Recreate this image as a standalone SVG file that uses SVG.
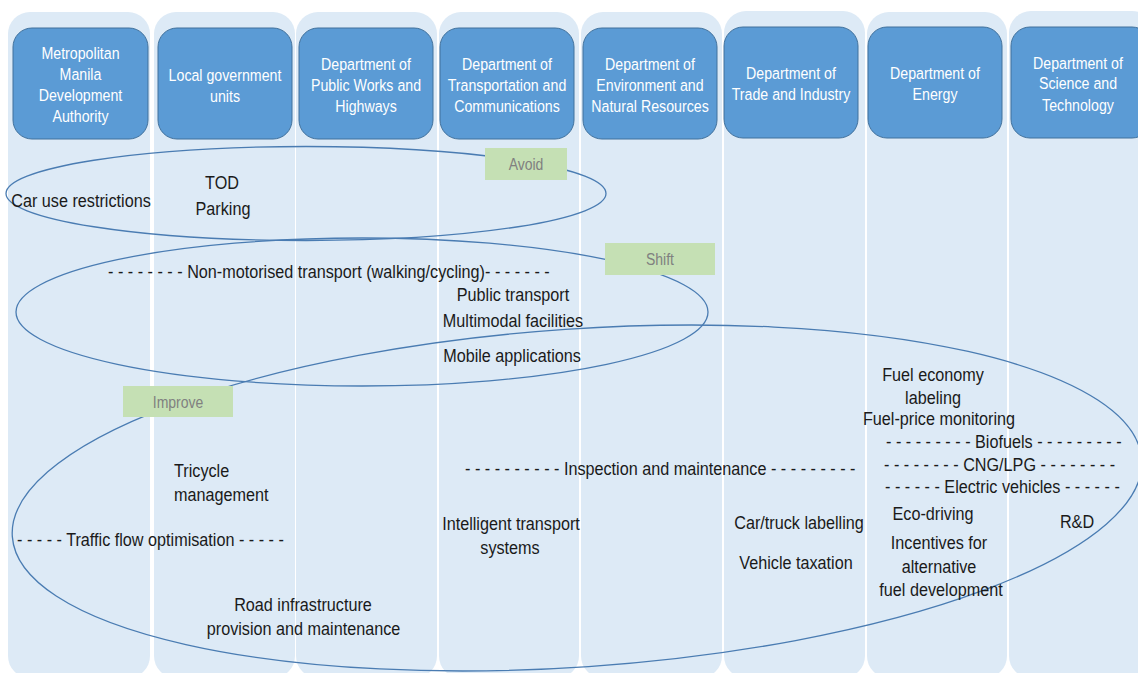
<svg xmlns="http://www.w3.org/2000/svg" width="1138" height="673" viewBox="0 0 1138 673">
<style>
.col{fill:#DDEAF6;}
.hdr{fill:#5B9BD5;stroke:#41719C;stroke-width:1;}
.ht{font-family:"Liberation Sans",Arial,sans-serif;font-size:14.2px;fill:#FFFFFF;text-anchor:middle;}
.b{font-family:"Liberation Sans",Arial,sans-serif;font-size:16.2px;fill:#1A1A1A;}
.m{text-anchor:middle;}
.ell{fill:none;stroke:#4A7CB2;stroke-width:1.3;}
.lbl{fill:#C5E0B4;}
.lt{font-family:"Liberation Sans",Arial,sans-serif;font-size:14px;fill:#808080;text-anchor:middle;}
</style>
<rect width="1138" height="673" fill="#FFFFFF"/>
<g id="columns">
<g id="col-mmda"><rect class="col" x="8" y="12" width="142" height="666" rx="22"/><rect class="hdr" x="13" y="28" width="135" height="111" rx="19"/>
<text class="ht" transform="translate(80.5,59) scale(1,1.2)">Metropolitan</text>
<text class="ht" transform="translate(80.5,80) scale(1,1.2)">Manila</text>
<text class="ht" transform="translate(80.5,101) scale(1,1.2)">Development</text>
<text class="ht" transform="translate(80.5,122) scale(1,1.2)">Authority</text></g>
<g id="col-lgu"><rect class="col" x="154" y="12" width="141" height="666" rx="22"/><rect class="hdr" x="158" y="28" width="134" height="111" rx="19"/>
<text class="ht" transform="translate(225,81) scale(1,1.2)">Local government</text>
<text class="ht" transform="translate(225,102) scale(1,1.2)">units</text></g>
<g id="col-dpwh"><rect class="col" x="296" y="12" width="141" height="666" rx="22"/><rect class="hdr" x="299" y="28" width="134" height="111" rx="19"/>
<text class="ht" transform="translate(366,70) scale(1,1.2)">Department of</text>
<text class="ht" transform="translate(366,91) scale(1,1.2)">Public Works and</text>
<text class="ht" transform="translate(366,112) scale(1,1.2)">Highways</text></g>
<g id="col-dotc"><rect class="col" x="439" y="12" width="140" height="666" rx="22"/><rect class="hdr" x="440" y="28" width="134" height="111" rx="19"/>
<text class="ht" transform="translate(507,70) scale(1,1.2)">Department of</text>
<text class="ht" transform="translate(507,91) scale(1,1.2)">Transportation and</text>
<text class="ht" transform="translate(507,112) scale(1,1.2)">Communications</text></g>
<g id="col-denr"><rect class="col" x="581" y="12" width="141" height="666" rx="22"/><rect class="hdr" x="583" y="28" width="134" height="111" rx="19"/>
<text class="ht" transform="translate(650,70) scale(1,1.2)">Department of</text>
<text class="ht" transform="translate(650,91) scale(1,1.2)">Environment and</text>
<text class="ht" transform="translate(650,112) scale(1,1.2)">Natural Resources</text></g>
<g id="col-dti"><rect class="col" x="724" y="11" width="141" height="667" rx="22"/><rect class="hdr" x="724" y="27" width="134" height="111" rx="19"/>
<text class="ht" transform="translate(791,79) scale(1,1.2)">Department of</text>
<text class="ht" transform="translate(791,100) scale(1,1.2)">Trade and Industry</text></g>
<g id="col-doe"><rect class="col" x="867" y="12" width="140" height="666" rx="22"/><rect class="hdr" x="868" y="27" width="134" height="111" rx="19"/>
<text class="ht" transform="translate(935,79) scale(1,1.2)">Department of</text>
<text class="ht" transform="translate(935,100) scale(1,1.2)">Energy</text></g>
<g id="col-dost"><rect class="col" x="1009" y="11" width="145" height="667" rx="22"/><rect class="hdr" x="1011" y="27" width="140" height="111" rx="19"/>
<text class="ht" transform="translate(1078,69) scale(1,1.2)">Department of</text>
<text class="ht" transform="translate(1078,89) scale(1,1.2)">Science and</text>
<text class="ht" transform="translate(1078,111) scale(1,1.2)">Technology</text></g>
</g>
<g id="ellipses">
<ellipse id="avoid-ellipse" class="ell" cx="306" cy="193.5" rx="300" ry="47"/>
<ellipse id="shift-ellipse" class="ell" cx="362" cy="312" rx="346" ry="74"/>
<ellipse id="improve-ellipse" class="ell" cx="577" cy="498" rx="566" ry="169" transform="rotate(-3.91 577 498)"/>
</g>
<g id="avoid"><rect class="lbl" x="485" y="148" width="82" height="32"/><text class="lt" transform="translate(526,170) scale(1,1.17)">Avoid</text></g>
<g id="shift"><rect class="lbl" x="605" y="243" width="110" height="32"/><text class="lt" transform="translate(660,265) scale(1,1.17)">Shift</text></g>
<g id="improve"><rect class="lbl" x="123" y="386" width="110" height="31"/><text class="lt" transform="translate(178,407.5) scale(1,1.17)">Improve</text></g>
<g id="measures">
<text class="b m" transform="translate(81,207) scale(1,1.145)">Car use restrictions</text>
<text class="b m" transform="translate(222,189) scale(1,1.145)">TOD</text>
<text class="b m" transform="translate(223,215) scale(1,1.145)">Parking</text>
<text class="b" transform="translate(108,277.5) scale(1,1.145)">- - - - - - - - Non-motorised transport (walking/cycling)- - - - - - -</text>
<text class="b m" transform="translate(513,301) scale(1,1.145)">Public transport</text>
<text class="b m" transform="translate(513,326.5) scale(1,1.145)">Multimodal facilities</text>
<text class="b m" transform="translate(512,362) scale(1,1.145)">Mobile applications</text>
<text class="b m" transform="translate(933,381) scale(1,1.145)">Fuel economy</text>
<text class="b m" transform="translate(933,404) scale(1,1.145)">labeling</text>
<text class="b m" transform="translate(939,424.5) scale(1,1.145)">Fuel-price monitoring</text>
<text class="b" transform="translate(886,448) scale(1,1.145)">- - - - - - - - - Biofuels - - - - - - - - -</text>
<text class="b" transform="translate(884,470.5) scale(1,1.145)">- - - - - - - - CNG/LPG  - - - - - - - -</text>
<text class="b" transform="translate(885,493) scale(1,1.145)">- - - - - - Electric vehicles - - - - - -</text>
<text class="b m" transform="translate(933,519.5) scale(1,1.145)">Eco-driving</text>
<text class="b m" transform="translate(1077,528) scale(1,1.145)">R&amp;D</text>
<text class="b m" transform="translate(939,549) scale(1,1.145)">Incentives for</text>
<text class="b m" transform="translate(939,573) scale(1,1.145)">alternative</text>
<text class="b m" transform="translate(941,596) scale(1,1.145)">fuel development</text>
<text class="b" transform="translate(465,475) scale(1,1.145)">- - - - - - - - - - Inspection and maintenance - - - - - - - - -</text>
<text class="b m" transform="translate(511,530) scale(1,1.145)">Intelligent transport</text>
<text class="b m" transform="translate(510,553.5) scale(1,1.145)">systems</text>
<text class="b m" transform="translate(799,529) scale(1,1.145)">Car/truck labelling</text>
<text class="b m" transform="translate(796,569) scale(1,1.145)">Vehicle taxation</text>
<text class="b" transform="translate(174,477) scale(1,1.145)">Tricycle</text>
<text class="b" transform="translate(174,501) scale(1,1.145)">management</text>
<text class="b" transform="translate(17,545.5) scale(1,1.145)">- - - - - Traffic flow optimisation - - - - -</text>
<text class="b m" transform="translate(303,611) scale(1,1.145)">Road infrastructure</text>
<text class="b m" transform="translate(303.5,634.5) scale(1,1.145)">provision and maintenance</text>
</g>
</svg>
